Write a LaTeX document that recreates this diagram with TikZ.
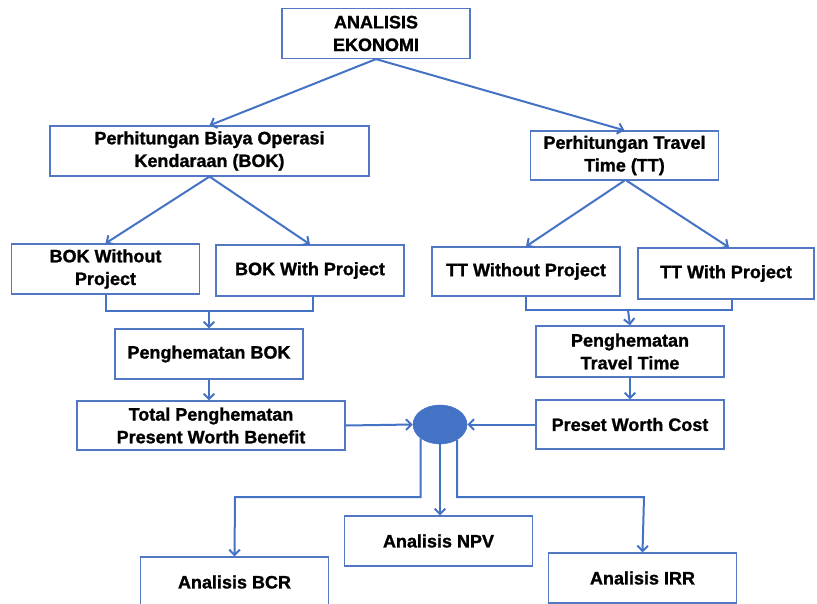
\documentclass[tikz,border=0pt]{standalone}
\usepackage{fontspec}
\setmainfont{Liberation Sans}[BoldFeatures={FakeBold=1.2}]
\usetikzlibrary{shapes,arrows.meta,positioning,calc}
\definecolor{lineblue}{RGB}{68,114,196}
\definecolor{boxblue}{RGB}{82,120,196}

\begin{document}
\begin{tikzpicture}[
    x=0.75pt, y=-0.75pt,
    every node/.style={font=\fontsize{13.5}{17}\selectfont\bfseries},
    box/.style={rectangle, draw=boxblue, line width=0.9pt, fill=white, minimum width=141pt, minimum height=37.5pt, align=center, inner sep=2pt},
    joint/.style={ellipse, draw=lineblue, fill=lineblue, minimum width=40.5pt, minimum height=29.25pt, inner sep=0pt},
    arrow/.style={-{Straight Barb[length=4pt,width=8pt]}, line width=1.5pt, color=lineblue},
    link/.style={line width=1.5pt, color=lineblue}
]
\clip (0,0) rectangle (817,603);

% Top level
\node[box] (ekonomi) at (376,33.5) {ANALISIS\\EKONOMI};

% Second level
\node[box, minimum width=239.25pt] (pbok) at (209.5,151) {Perhitungan Biaya Operasi\\Kendaraan (BOK)};
\node[box, minimum height=36.75pt] (ptt) at (624.5,155.5) {Perhitungan Travel\\Time (TT)};

% Without / with project
\node[box] (bokwo) at (105.5,269) {BOK Without\\Project};
\node[box, minimum height=38.25pt] (bokw) at (310,270.5) {BOK With Project};
\node[box, minimum height=36.75pt] (ttwo) at (526,271.5) {TT Without Project};
\node[box, minimum width=132pt, minimum height=38.25pt] (ttw) at (726,273.5) {TT With Project};

% Savings
\node[box] (hbok) at (209,354) {Penghematan BOK};
\node[box, minimum height=38.25pt] (htt) at (630,351.5) {Penghematan\\Travel Time};

% Present worth
\node[box, minimum width=201pt, minimum height=36.75pt] (total) at (211,425.5) {Total Penghematan\\Present Worth Benefit};
\node[box, minimum height=36.75pt] (pwc) at (630,424.5) {Preset Worth Cost};
\node[joint] (joint) at (440,424.5) {};

% Analysis
\node[box] (npv) at (438.5,541) {Analisis NPV};
\node[box] (bcr) at (234.5,582) {Analisis BCR};
\node[box] (irr) at (642.5,578) {Analisis IRR};

% Merge points
\coordinate (mbok) at (209,311);
\coordinate (mtt) at (628,310);
\coordinate (jbcr) at (235,497);
\coordinate (jirr) at (644,497);

% Connections from top
\draw[arrow] (ekonomi.south) -- (pbok.north);
\draw[arrow] (ekonomi.south) -- (ptt.north);

\draw[arrow] (pbok.south) -- (bokwo.north);
\draw[arrow] (pbok.south) -- (bokw.north);
\draw[arrow] (ptt.south) -- (ttwo.north);
\draw[arrow] ($(ptt.south)+(2,0)$) -- ($(ttw.north)+(3,0)$);

% Merging into savings
\draw[link] (bokwo.south) |- (mbok) -| ($(bokw.south)+(3,0)$);
\draw[arrow] (mbok) -- (hbok.north);
\draw[link] (ttwo.south) |- (mtt) -| ($(ttw.south)+(6,0)$);
\draw[arrow] (mtt) -- (htt.north);

\draw[arrow] (hbok.south) -- (hbok.south |- total.north);
\draw[arrow] (htt.south) -- (pwc.north);

% Into the joint
\draw[arrow] (total.east) -- (joint.west);
\draw[arrow] (pwc.west) -- (joint.east);

% Out of the joint
\draw[arrow] (joint.216) |- (jbcr) -- (bcr.north);
\draw[arrow] (joint.south) -- (joint.south |- npv.north);
\draw[arrow] (joint.318) |- (jirr) -- (irr.north);

\end{tikzpicture}
\end{document}
